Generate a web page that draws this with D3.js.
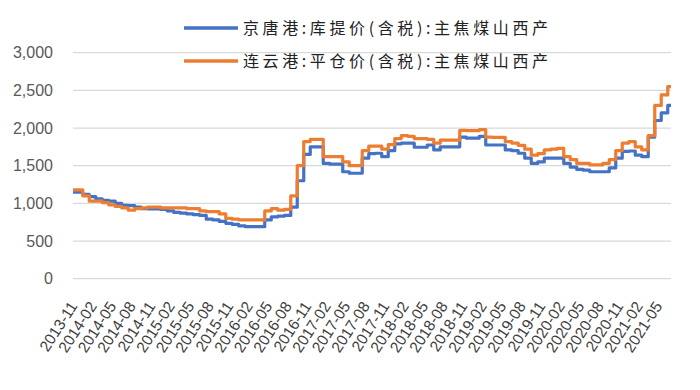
<!DOCTYPE html>
<html><head><meta charset="utf-8">
<script src="https://cdn.jsdelivr.net/npm/d3@7"></script>
<style>html,body{margin:0;padding:0;background:#fff;}svg{display:block;}</style>
</head><body>
<svg id="chart" width="700" height="390"></svg>
<script>
// Months 2013-11 .. 2021-07
const months = d3.timeMonth.range(new Date(2013,10,1), new Date(2021,7,1)).map(d3.timeFormat("%Y-%m"));
const seriesNames = ["京唐港:库提价(含税):主焦煤山西产", "连云港:平仓价(含税):主焦煤山西产"];
const jingtang = [1150,1150,1120,1090,1060,1040,1030,1000,975,970,950,930,925,925,920,900,880,870,860,850,840,790,780,760,735,720,700,690,690,690,780,820,830,840,950,1300,1650,1750,1750,1530,1520,1520,1420,1400,1400,1600,1660,1665,1620,1700,1790,1800,1800,1745,1745,1775,1710,1750,1750,1750,1880,1865,1865,1890,1775,1775,1775,1710,1700,1665,1600,1530,1550,1600,1600,1600,1530,1480,1450,1440,1420,1420,1420,1470,1600,1690,1695,1640,1620,1880,2100,2200,2300];
const lianyun = [1180,1180,1100,1030,1030,1010,980,960,940,910,930,940,950,950,940,940,940,940,930,930,900,890,890,860,800,790,780,780,780,780,900,930,910,920,1100,1500,1820,1850,1850,1620,1620,1620,1550,1500,1500,1700,1760,1760,1720,1780,1860,1900,1890,1860,1860,1850,1800,1840,1840,1840,1970,1965,1965,1980,1880,1875,1875,1820,1800,1770,1720,1640,1660,1710,1720,1730,1620,1580,1530,1530,1510,1510,1530,1580,1700,1800,1820,1750,1710,1900,2300,2440,2550];
const yTicks = [0,500,1000,1500,2000,2500,3000];
const xTickLabels = months.filter((m,i)=>i%3===0 && i<=90);
const colors = ["#4472C4", "#ED7D31"];

const svg = d3.select("#chart");
const x = d3.scalePoint().domain(months).range([73, 671]);
const y = d3.scaleLinear().domain([0,3000]).range([278.7, 52.7]);

// gridlines
svg.append("g").selectAll("line").data(yTicks).join("line")
  .attr("x1",73).attr("x2",671)
  .attr("y1",d=>y(d)).attr("y2",d=>y(d))
  .attr("stroke","#D9D9D9").attr("stroke-width",1.3);

// y labels
svg.append("g").selectAll("text").data(yTicks).join("text")
  .attr("x",53).attr("y",d=>y(d)).attr("dy","0.35em")
  .attr("text-anchor","end")
  .attr("font-family","Liberation Sans, Arial, sans-serif").attr("font-size",16)
  .attr("fill","#595959")
  .text(d=>d3.format(",")(d));

// x labels
svg.append("g").selectAll("text").data(xTickLabels).join("text")
  .attr("transform",d=>`translate(${x(d)+5},306) rotate(-57)`)
  .attr("text-anchor","end")
  .attr("font-family","Liberation Sans, Arial, sans-serif").attr("font-size",15.5)
  .attr("fill","#404040")
  .text(d=>d);

// lines
const line = d3.line().x((d,i)=>x(months[i])).y(d=>y(d)).curve(d3.curveStep);
[jingtang, lianyun].forEach((s,k)=>{
  svg.append("path").datum(s).attr("d",line)
    .attr("fill","none").attr("stroke",colors[k]).attr("stroke-width",3.2)
    .attr("stroke-linejoin","round");
});

// legend
const lg = svg.append("g");
seriesNames.forEach((n,k)=>{
  const ly = 28 + k*33;
  lg.append("line").attr("x1",184).attr("x2",238).attr("y1",ly).attr("y2",ly)
    .attr("stroke",colors[k]).attr("stroke-width",3.5);
  lg.append("text").attr("x",243).attr("y",ly).attr("dy","0.35em")
    .attr("font-family","Noto Sans CJK SC, sans-serif").attr("font-size",16)
    .attr("fill","#222")
    .attr("textLength",305).attr("lengthAdjust","spacing")
    .text(n);
});
</script>
</body></html>
